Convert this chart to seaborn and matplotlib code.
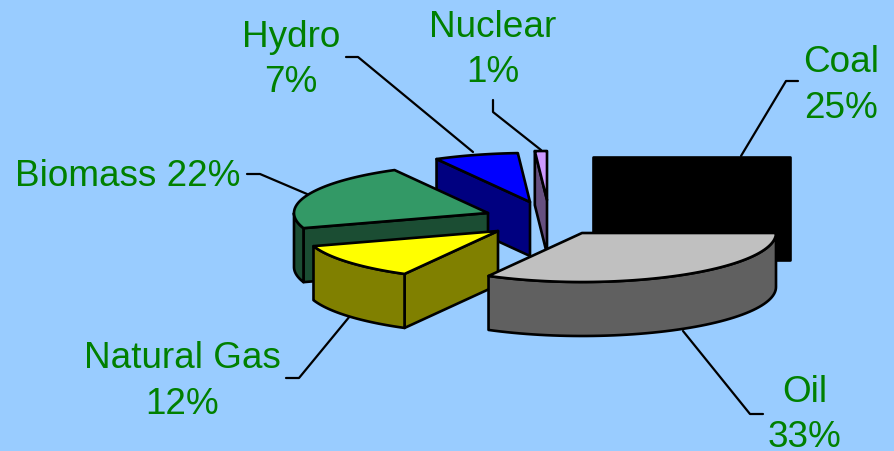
import numpy as np
import pandas as pd
import seaborn as sns
import matplotlib.pyplot as plt

# shares in clockwise order from 12 o'clock
categories = ['Coal', 'Oil', 'Natural Gas', 'Biomass', 'Hydro', 'Nuclear']
shares = [25, 33, 12, 22, 7, 1]

top_colors = ['#000000', '#C0C0C0', '#FFFF00', '#339966', '#0000FF', '#CC99FF']
side_colors = ['#000000', '#606060', '#808000', '#1B4D33', '#000080', '#665080']

# layout, in pixels of the 894x452 picture
apex_x = [593, 582, 498, 488, 530, 547]
apex_y = [207, 234, 232, 214, 203, 201]
draw_order = ['Coal', 'Nuclear', 'Hydro', 'Biomass', 'Natural Gas', 'Oil']
rx, ry, depth = 194, 49, 54
coal_rx = 197

leaders = {
    'Coal': ([741, 786, 798], [157, 82, 82]),
    'Oil': ([683, 750, 763], [332, 415, 415]),
    'Natural Gas': ([350, 299, 286], [317, 379, 379]),
    'Biomass': ([307, 260, 247], [195, 175, 175]),
    'Hydro': ([473, 358, 346], [153, 58, 58]),
    'Nuclear': ([541, 493, 493], [151, 113, 101]),
}
# centre x, baseline of each text line
label_pos = {
    'Coal': (841, [72, 118]),
    'Oil': (805, [402, 447]),
    'Natural Gas': (182, [368, 414]),
    'Biomass': (128, [186]),
    'Hydro': (291, [47, 92]),
    'Nuclear': (493, [37, 82]),
}

df = pd.DataFrame({'name': categories, 'share': shares, 'top': top_colors, 'side': side_colors,
                   'ax': apex_x, 'ay': apex_y})
df['end'] = df['share'].cumsum() * 3.6
df['start'] = df['end'] - df['share'] * 3.6
df = df.set_index('name')

sns.set_theme(style='white')
plt.rcParams['font.family'] = ['Liberation Sans', 'DejaVu Sans']

fig = plt.figure(figsize=(8.94, 4.52), dpi=100, facecolor='#99CCFF')
ax = fig.add_axes([0, 0, 1, 1])
ax.set_xlim(0, 894)
ax.set_ylim(452, 0)
ax.axis('off')


def rim(row, a, b, radius=rx):
    t = np.radians(np.linspace(a, b, 60))
    return row['ax'] + radius * np.sin(t), row['ay'] - ry * np.cos(t)


def face(xs, ys, color, z):
    ax.fill(xs, ys, facecolor=color, edgecolor='black', lw=1.9, joinstyle='round', zorder=z)


# leader lines sit behind the pie
for name, (lx, ly) in leaders.items():
    sns.lineplot(x=lx, y=ly, sort=False, estimator=None, color='black', lw=1.6, ax=ax, zorder=1)

for i, name in enumerate(draw_order):
    row = df.loc[name]
    z = 2 + i
    a, b = row['start'], row['end']
    tx, ty = rim(row, a, b)

    if name == 'Coal':
        # this slice renders as a solid block in the reference
        tx, ty = rim(row, a, b, coal_rx)
        x0, x1 = row['ax'], tx.max()
        y0, y1 = ty.min(), ty.max() + depth
        face([x0, x1, x1, x0], [y0, y0, y1, y1], row['side'], z)
        continue

    # cut wall on the leading edge
    if a > 180:
        sx, sy = rim(row, a, a)
        face([sx[0], row['ax'], row['ax'], sx[0]],
             [sy[0], row['ay'], row['ay'] + depth, sy[0] + depth], row['side'], z)

    # curved wall, only the front half of the ellipse shows
    lo, hi = max(a, 90), min(b, 270)
    if hi > lo:
        wx, wy = rim(row, lo, hi)
        face(np.r_[wx, wx[::-1]], np.r_[wy, wy[::-1] + depth], row['side'], z)

    face(np.r_[row['ax'], tx], np.r_[row['ay'], ty], row['top'], z)

for name, (cx, baselines) in label_pos.items():
    pct = f"{df.loc[name, 'share']}%"
    lines = [f'{name} {pct}'] if len(baselines) == 1 else [name, pct]
    for line, y in zip(lines, baselines):
        ax.text(cx, y, line, color='#008000', fontsize=26.6, ha='center', va='baseline',
                clip_on=False, zorder=20)

fig.savefig('out.png', dpi=100, facecolor=fig.get_facecolor())
